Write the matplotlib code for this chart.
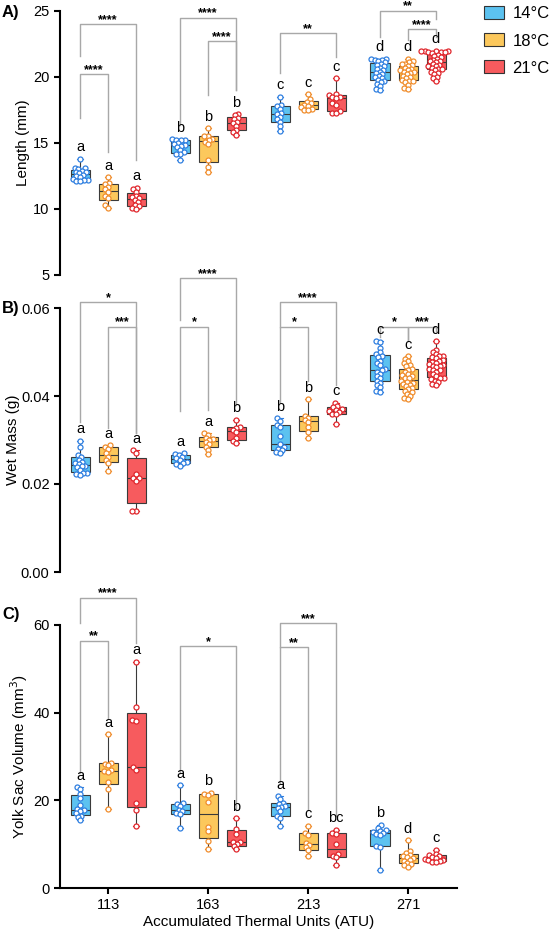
import numpy as np
import matplotlib
matplotlib.use("Agg")
import matplotlib.pyplot as plt
from matplotlib.patches import Patch

plt.rcParams['font.family'] = ['Liberation Sans', 'DejaVu Sans']

atu_labels = ["113", "163", "213", "271"]
temp_labels = ["14°C", "18°C", "21°C"]

# Length (mm), one list per ATU
length_14 = [
    [13.8, 13.1, 13.1, 13.0, 12.9, 12.8, 12.8, 12.7, 12.6, 12.5, 12.4, 12.3, 12.2, 12.2, 12.15, 12.1],
    [15.3, 15.25, 15.2, 15.2, 15.0, 14.9, 14.85, 14.8, 14.7, 14.5, 14.3, 14.2, 14.2, 13.7],
    [18.5, 17.9, 17.8, 17.6, 17.3, 17.2, 17.0, 16.8, 16.6, 16.3, 15.9],
    [21.4, 21.4, 21.3, 21.3, 21.2, 21.1, 21.0, 20.9, 20.8, 20.7, 20.6, 20.5, 20.4,
     20.3, 20.2, 20.1, 20.0, 19.9, 19.8, 19.7, 19.6, 19.5, 19.3, 19.1, 19.0],
]
length_18 = [
    [12.4, 12.0, 11.9, 11.7, 11.5, 11.3, 11.0, 10.8, 10.3, 10.1],
    [16.1, 15.5, 15.5, 15.3, 15.2, 15.1, 14.9, 13.7, 13.2, 12.8],
    [18.7, 18.3, 18.1, 18.0, 17.9, 17.8, 17.7, 17.6, 17.5, 17.5],
    [21.4, 21.2, 21.1, 21.0, 21.0, 20.9, 20.8, 20.7, 20.6, 20.5, 20.5, 20.4, 20.4,
     20.3, 20.2, 20.1, 20.0, 19.9, 19.8, 19.7, 19.7, 19.6, 19.4, 19.2, 19.1],
]
length_21 = [
    [11.6, 11.5, 11.3, 11.0, 10.9, 10.8, 10.7, 10.5, 10.3, 10.2, 10.1, 10.0],
    [17.2, 17.1, 16.9, 16.8, 16.6, 16.5, 16.3, 16.0, 15.8, 15.6],
    [19.9, 18.7, 18.6, 18.5, 18.5, 18.4, 18.0, 17.9, 17.4, 17.3, 17.3],
    [22.0, 22.0, 22.0, 21.95, 21.9, 21.9, 21.9, 21.85, 21.7, 21.6, 21.5, 21.4, 21.3, 21.2, 21.2,
     21.1, 21.0, 20.9, 20.8, 20.8, 20.7, 20.6, 20.6, 20.5, 20.4, 20.3, 20.2, 20.0, 19.9, 19.7],
]

# Wet mass (g)
mass_14 = [
    [0.0298, 0.0285, 0.0265, 0.0262, 0.0255, 0.0250, 0.0248, 0.0246, 0.0242, 0.0240, 0.0238,
     0.0232, 0.0226, 0.0224, 0.0222, 0.0220],
    [0.0270, 0.0268, 0.0265, 0.0262, 0.0258, 0.0255, 0.0250, 0.0248, 0.0245, 0.0242],
    [0.0349, 0.0343, 0.0335, 0.0330, 0.0310, 0.0290, 0.0285, 0.0280, 0.0278, 0.0272, 0.0270],
    [0.0524, 0.0522, 0.0510, 0.0500, 0.0495, 0.0492, 0.0488, 0.0480, 0.0475, 0.0470, 0.0462,
     0.0458, 0.0455, 0.0450, 0.0445, 0.0440, 0.0435, 0.0430, 0.0425, 0.0420, 0.0412, 0.0410],
]
mass_18 = [
    [0.0288, 0.0285, 0.0280, 0.0270, 0.0262, 0.0255, 0.0248, 0.0230],
    [0.0315, 0.0312, 0.0305, 0.0302, 0.0300, 0.0295, 0.0290, 0.0285, 0.0278, 0.0268],
    [0.0393, 0.0355, 0.0350, 0.0345, 0.0340, 0.0330, 0.0318, 0.0305],
    [0.0490, 0.0485, 0.0480, 0.0475, 0.0470, 0.0468, 0.0462, 0.0460, 0.0455, 0.0450, 0.0448,
     0.0445, 0.0442, 0.0440, 0.0435, 0.0432, 0.0430, 0.0428, 0.0425, 0.0422, 0.0418, 0.0415,
     0.0412, 0.0408, 0.0405, 0.0400, 0.0395, 0.0393],
]
mass_21 = [
    [0.0277, 0.0271, 0.0222, 0.0213, 0.0213, 0.0207, 0.0139, 0.0139],
    [0.0346, 0.0330, 0.0328, 0.0322, 0.0318, 0.0305, 0.0298, 0.0294],
    [0.0385, 0.0377, 0.0374, 0.0370, 0.0368, 0.0366, 0.0363, 0.0360, 0.0358, 0.0336],
    [0.0524, 0.0505, 0.0500, 0.0495, 0.0492, 0.0490, 0.0488, 0.0486, 0.0482, 0.0480, 0.0478,
     0.0475, 0.0472, 0.0470, 0.0469, 0.0468, 0.0465, 0.0462, 0.0460, 0.0458, 0.0455, 0.0450,
     0.0445, 0.0442, 0.0440, 0.0438, 0.0435, 0.0432, 0.0428, 0.0425],
]

# Yolk sac volume (mm3)
yolk_14 = [
    [23.0, 22.5, 21.5, 20.5, 19.0, 18.0, 17.8, 17.5, 17.0, 16.5, 16.2, 15.5],
    [23.5, 19.3, 19.2, 18.8, 17.8, 17.5, 17.0, 16.8, 13.8],
    [20.9, 20.2, 19.5, 19.2, 18.8, 18.5, 18.2, 17.5, 16.5, 16.0, 14.2],
    [14.4, 13.8, 13.2, 13.0, 12.8, 12.5, 12.3, 12.0, 9.5, 9.3, 4.1],
]
yolk_18 = [
    [35.1, 28.6, 28.4, 28.0, 27.0, 26.6, 26.4, 24.2, 22.5, 18.0],
    [21.7, 21.4, 21.2, 19.7, 14.0, 13.0, 10.8, 8.8],
    [14.2, 12.6, 12.2, 10.2, 9.7, 9.3, 8.6, 7.4],
    [10.9, 8.5, 8.0, 7.6, 7.3, 7.1, 6.8, 6.5, 6.2, 5.8, 5.5, 5.2, 4.9],
]
yolk_21 = [
    [51.6, 41.4, 38.3, 38.2, 27.5, 26.9, 19.3, 17.8, 14.1],
    [15.9, 13.4, 12.3, 10.6, 10.4, 10.0, 9.5, 8.8],
    [13.3, 12.6, 12.3, 10.0, 7.8, 7.4, 7.0, 5.3],
    [8.7, 7.8, 7.5, 7.3, 7.0, 6.9, 6.7, 6.5, 6.3, 6.1, 6.0, 5.9],
]

# letters above each box
length_letters = [["a", "a", "a"], ["b", "b", "b"], ["c", "c", "c"], ["d", "d", "d"]]
mass_letters = [["a", "a", "a"], ["a", "a", "b"], ["b", "b", "c"], ["c", "c", "d"]]
yolk_letters = [["a", "a", "a"], ["a", "b", "b"], ["a", "c", "bc"], ["b", "d", "c"]]

# significance brackets: (atu index, box i, box j, line y, left leg end, right leg end, stars)
length_brackets = [
    (0, 0, 2, 24.0, 21.6, 13.7, "****"),
    (0, 0, 1, 20.2, 16.9, 14.3, "****"),
    (1, 0, 2, 24.5, 16.4, 19.0, "****"),
    (1, 1, 2, 22.7, 18.6, 19.0, "****"),
    (2, 0, 2, 23.3, 20.3, 21.5, "**"),
    (3, 0, 2, 25.0, 23.05, 24.4, "**"),
    (3, 1, 2, 23.6, 22.8, 23.05, "****"),
]
mass_brackets = [
    (0, 0, 2, 0.0613, 0.0340, 0.0315, "*"),
    (0, 1, 2, 0.0557, 0.0327, 0.0315, "***"),
    (1, 0, 2, 0.0668, 0.0573, 0.0380, "****"),
    (1, 0, 1, 0.0557, 0.0365, 0.0368, "*"),
    (2, 0, 2, 0.0613, 0.0557, 0.0425, "****"),
    (2, 0, 1, 0.0557, 0.0384, 0.0433, "*"),
    (3, 0, 1, 0.0557, 0.0535, 0.0528, "*"),
    (3, 1, 2, 0.0557, 0.0524, 0.0545, "***"),
]
yolk_brackets = [
    (0, 0, 2, 66.2, 60.4, 55.8, "****"),
    (0, 0, 1, 56.4, 26.2, 38.7, "**"),
    (1, 0, 2, 55.1, 26.2, 17.8, "*"),
    (2, 0, 2, 60.4, 54.9, 16.5, "***"),
    (2, 0, 1, 54.9, 23.9, 17.7, "**"),
]

fills = ["#5cc2f0", "#fcc85c", "#f75b5e"]
edges = ["#2f7fe0", "#f08d2c", "#e0262c"]
offsets = [-0.28, 0.0, 0.28]
box_w = 0.19
fig_w, fig_h = 555, 932


def swarm(vals, y_px, d=3.9):
    # simple beeswarm, returns x offsets in pixels
    vals = np.asarray(vals, dtype=float)
    order = np.argsort(vals)
    placed = []
    xs = np.zeros(len(vals))
    for k in order:
        y = vals[k] * y_px
        cands = [0.0]
        for px, py in placed:
            dy = abs(y - py)
            if dy < d:
                dx = np.sqrt(d * d - dy * dy)
                cands += [px - dx, px + dx]
        cands.sort(key=abs)
        for c in cands:
            if all((c - px) ** 2 + (y - py) ** 2 >= d * d - 1e-6 for px, py in placed):
                break
        placed.append((c, y))
        xs[k] = c
    return xs


def draw_panel(ax, groups, letters, brackets, ylim, ylabel_txt):
    y_px = ax_h_px / (ylim[1] - ylim[0])
    x_px = ax_w_px / (xlim[1] - xlim[0])
    for t in range(3):
        for g in range(4):
            vals = np.asarray(groups[t][g])
            pos = g + offsets[t]
            q1, med, q3 = np.percentile(vals, [25, 50, 75], method="weibull")
            stats = [dict(med=med, q1=q1, q3=q3, whislo=vals.min(), whishi=vals.max(), fliers=[])]
            ax.bxp(stats, positions=[pos], widths=box_w, patch_artist=True, showfliers=False,
                   capwidths=0.06,
                   boxprops=dict(facecolor=fills[t], edgecolor="#3a3a3a", linewidth=0.8),
                   medianprops=dict(color="#3a3a3a", linewidth=0.8),
                   whiskerprops=dict(color="#3a3a3a", linewidth=0.8),
                   capprops=dict(color=edges[t], linewidth=0.8), manage_ticks=False)
            xo = swarm(vals, y_px) / x_px
            ax.scatter(pos + xo, vals, s=13, facecolor="white", edgecolor=edges[t],
                       linewidth=0.9, zorder=3, clip_on=False)
            ax.annotate(letters[g][t], (pos, vals.max()), xytext=(0, 3.2),
                        textcoords="offset points", ha="center", va="bottom", fontsize=10.5,
                        annotation_clip=False)
    for g, i, j, yl, ya, yb, stars in brackets:
        x1, x2 = g + offsets[i], g + offsets[j]
        ax.plot([x1, x1, x2, x2], [ya, yl, yl, yb], color="#a8a8a8", lw=1.0, clip_on=False, zorder=1)
        ax.annotate(stars, ((x1 + x2) / 2, yl), xytext=(0, 1), textcoords="offset points",
                    ha="center", va="baseline", fontsize=9, fontweight="bold",
                    annotation_clip=False)
    ax.set_xlim(*xlim)
    ax.set_ylim(*ylim)
    ax.set_ylabel(ylabel_txt, fontsize=11)
    for s in ["top", "right"]:
        ax.spines[s].set_visible(False)
    ax.spines["left"].set_linewidth(1.5)
    ax.spines["bottom"].set_linewidth(1.5)
    ax.tick_params(axis="y", labelsize=10.5, width=1.5, length=4)
    ax.set_facecolor("none")


xlim = (-0.48, 3.49)
left, right = 60, 457
ax_w_px = right - left
ax_h_px = 264

fig = plt.figure(figsize=(fig_w / 100, fig_h / 100), dpi=100)


def add_axes(top_px, bottom_px):
    return fig.add_axes([left / fig_w, 1 - bottom_px / fig_h, ax_w_px / fig_w,
                         (bottom_px - top_px) / fig_h])


ax_a = add_axes(11, 275)
ax_b = add_axes(308, 572)
ax_c = add_axes(625, 888)

draw_panel(ax_a, [length_14, length_18, length_21], length_letters, length_brackets, (5, 25), "Length (mm)")
draw_panel(ax_b, [mass_14, mass_18, mass_21], mass_letters, mass_brackets, (0, 0.06), "Wet Mass (g)")
draw_panel(ax_c, [yolk_14, yolk_18, yolk_21], yolk_letters, yolk_brackets, (0, 60), "Yolk Sac Volume (mm$^3$)")

ax_a.set_yticks([5, 10, 15, 20, 25])
ax_b.set_yticks([0, 0.02, 0.04, 0.06])
ax_b.set_yticklabels(["0.00", "0.02", "0.04", "0.06"])
ax_c.set_yticks([0, 20, 40, 60])

for ax in [ax_a, ax_b]:
    ax.spines["bottom"].set_visible(False)
    ax.set_xticks([])

ax_c.set_xticks(range(4))
ax_c.set_xticklabels(atu_labels)
ax_c.tick_params(axis="x", labelsize=10.5, width=1.5, length=4)
ax_c.set_xlabel("Accumulated Thermal Units (ATU)", fontsize=11, labelpad=2)

ax_a.yaxis.set_label_coords(-0.075, 0.5)
ax_b.yaxis.set_label_coords(-0.1, 0.5)
ax_c.yaxis.set_label_coords(-0.075, 0.5)

fig.text(2 / fig_w, 1 - 12 / fig_h, "A)", fontsize=12, fontweight="bold", va="center")
fig.text(2 / fig_w, 1 - 308 / fig_h, "B)", fontsize=12, fontweight="bold", va="center")
fig.text(2 / fig_w, 1 - 615 / fig_h, "C)", fontsize=12, fontweight="bold", va="center")

handles = [Patch(facecolor=fills[k], edgecolor="#333333", linewidth=0.8) for k in range(3)]
fig.legend(handles, temp_labels, loc="upper left", bbox_to_anchor=(484 / fig_w, 1 - 6 / fig_h),
           frameon=False, fontsize=12, handlelength=1.2, handleheight=0.85,
           labelspacing=0.7, handletextpad=0.5, borderaxespad=0, borderpad=0)

fig.savefig("out.png", dpi=100)
